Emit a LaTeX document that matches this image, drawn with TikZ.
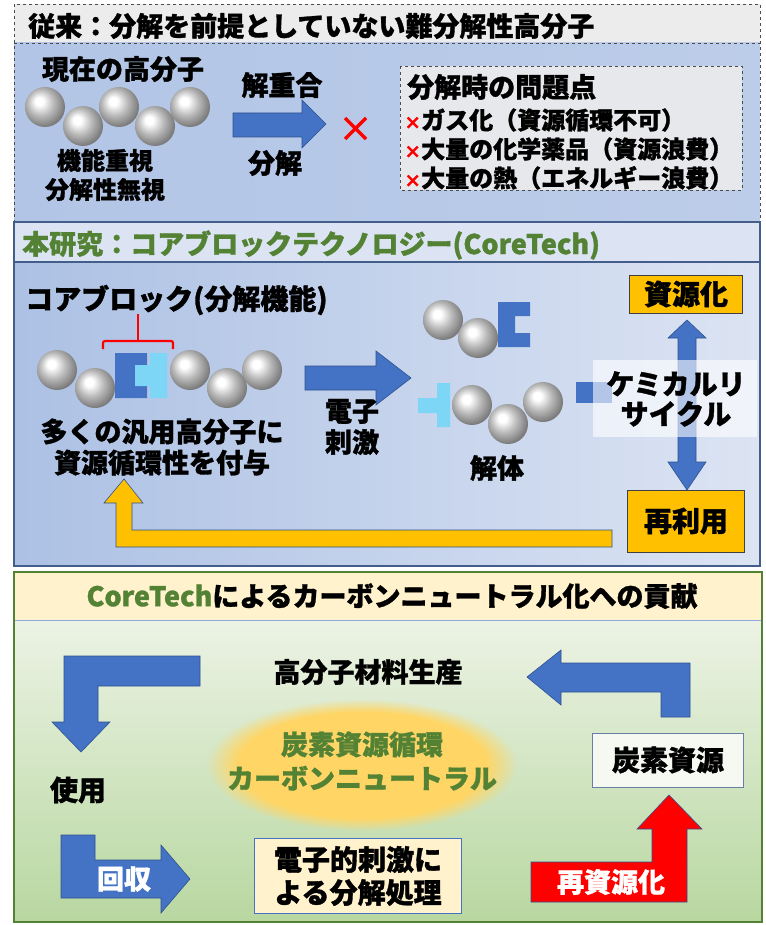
\documentclass[tikz,border=0pt]{standalone}
\usepackage{fontspec}
\setmainfont{Noto Sans CJK JP}[BoldFeatures={FakeBold=1.2}]
\usepackage{tikz}
\usetikzlibrary{arrows.meta,positioning,fadings}

\definecolor{arrowblue}{RGB}{68,114,196}
\definecolor{arrowedge}{RGB}{47,82,143}
\definecolor{piececyan}{RGB}{125,214,245}
\definecolor{amber}{RGB}{255,192,0}
\definecolor{leafgreen}{RGB}{84,130,53}
\definecolor{frameblue}{RGB}{68,94,140}
\definecolor{headgray}{RGB}{236,236,236}
\definecolor{skyblue}{RGB}{178,197,230}
\definecolor{paleblue}{RGB}{220,228,243}
\definecolor{cream}{RGB}{255,242,204}
\definecolor{mint}{RGB}{236,243,229}
\definecolor{sage}{RGB}{184,215,160}
\definecolor{glow}{RGB}{255,214,102}
% silver monomer bead
\pgfdeclareradialshading{silver}{\pgfpoint{-8bp}{8bp}}{color(0bp)=(white);
  color(5bp)=(white); color(16bp)=(black!27); color(28bp)=(black!52); color(50bp)=(black!62)}

\begin{document}
\begin{tikzpicture}[x=1pt,y=-1pt,>=Stealth,
  txt/.style={font=\fontsize{27}{31}\selectfont\bfseries,inner sep=0pt,align=center},
  small/.style={font=\fontsize{24}{29}\selectfont\bfseries,inner sep=0pt},
  mol/.style={circle,shade,shading=silver,minimum size=40pt,inner sep=0pt},
  barrow/.style={fill=arrowblue,draw=arrowedge,line width=0.6pt},
  ambox/.style={rectangle,fill=amber,draw=black!75,line width=0.8pt,
    font=\fontsize{28}{31}\selectfont\bfseries},
  frame/.style={draw=frameblue,line width=1.5pt}]
  \fill[white] (0,0) rectangle (765,925);
  \useasboundingbox (0,0) rectangle (765,925);

  % conventional polymers
  \fill[headgray] (14,4) rectangle (760,43);
  \shade[left color=skyblue,right color=skyblue!75!paleblue] (14,43) rectangle (760,221);
  \draw[dashed,black!70,line width=0.8pt] (14,43) -- (760,43);
  \draw[dashed,black!70,line width=0.8pt] (14,4) rectangle (760,221);
  \node[txt,anchor=west] (oh) at (28,26) {従来：分解を前提としていない難分解性高分子};
  \node[txt] (op) at (123,69) {現在の高分子};
  \foreach \i/\x/\y in {1/45/107,2/83/126,3/119/107,4/155/126,5/190/107}
    \node[mol] (o\i) at (\x,\y) {};
  \node[small,align=center] (on) at (105,175) {機能重視\\分解性無視};
  \fill[barrow] (233,113) -- (302,113) -- (302,100) -- (326,124) -- (302,148)
    -- (302,137) -- (233,137) -- cycle;
  \node[txt] (dp) at (282,85) {解重合};
  \node[txt] (dc) at (275,163) {分解};
  \draw[red,line width=3.2pt] (345,118) -- (366,139) (345,139) -- (366,118);
  % problems box
  \fill[headgray,opacity=0.9] (400,66) rectangle (742,190);
  \draw[dashed,black!70,line width=0.8pt] (400,66) rectangle (742,190);
  \node[txt,anchor=west] (ih) at (407,87) {分解時の問題点};
  \node[small,anchor=west,align=left] (il) at (404,149)
    {\textcolor{red}{\fontsize{17}{17}\selectfont ×}ガス化（資源循環不可）\\
     \textcolor{red}{\fontsize{17}{17}\selectfont ×}大量の化学薬品（資源浪費）\\
     \textcolor{red}{\fontsize{17}{17}\selectfont ×}大量の熱（エネルギー浪費）};

  % core block technology
  \fill[paleblue] (14,222) rectangle (760,262);
  \shade[left color=skyblue!95!arrowblue,right color=paleblue] (14,262) rectangle (760,566);
  \draw[frame] (14,222) rectangle (760,566) (14,262) -- (760,262);
  \node[txt,anchor=west,text=leafgreen] (nh) at (22,245) {本研究：コアブロックテクノロジー(CoreTech)};
  \node[txt,anchor=west,font=\fontsize{28}{31}\selectfont\bfseries] (cl) at (25,300) {コアブロック(分解機能)};
  \draw[red,line width=2.2pt,rounded corners=2pt] (103,349) -- (103,341) -- (173,341) -- (173,349);
  \draw[red,line width=2.2pt] (138,341) -- (138,314);
  \foreach \i/\x/\y in {1/57/370,2/95/388,3/190/370,4/227/388,5/262/370}
    \node[mol] (c\i) at (\x,\y) {};
  \fill[arrowblue] (115,353) -- (147,353) -- (147,365) -- (135,365) -- (135,386)
    -- (147,386) -- (147,398) -- (115,398) -- cycle;
  \fill[piececyan] (150,353) rectangle (167,398) (135,365) rectangle (150,386);
  \node[txt] (gp) at (162,447) {多くの汎用高分子に\\資源循環性を付与};
  \fill[barrow] (305,366) -- (376,366) -- (376,351) -- (411,378) -- (376,405)
    -- (376,390) -- (305,390) -- cycle;
  \node[txt] (es) at (352,427) {電子\\刺激};
  % split pieces
  \node[mol] (u1) at (443,320) {};
  \node[mol] (u2) at (478,338) {};
  \fill[arrowblue] (498,302) -- (530,302) -- (530,316) -- (515,316) -- (515,333)
    -- (530,333) -- (530,347) -- (498,347) -- cycle;
  \fill[piececyan] (437,383) rectangle (450,427) (418,398) rectangle (437,413);
  \foreach \i/\x/\y in {1/472/405,2/508/424,3/543/402}
    \node[mol] (d\i) at (\x,\y) {};
  \node[txt] (ap) at (497,468) {解体};
  \fill[arrowblue] (576,382) rectangle (612,403);
  % chemical recycle
  \node[ambox,minimum width=113pt,minimum height=38pt] (rs) at (686,294) {資源化};
  \node[ambox,minimum width=117pt,minimum height=62pt] (ru) at (686,521) {再利用};
  \fill[barrow] (687,320) -- (706,338) -- (696,338) -- (696,462) -- (706,462)
    -- (687,490) -- (668,462) -- (678,462) -- (678,338) -- (668,338) -- cycle;
  \fill[white,opacity=0.6] (593,360) rectangle (757,437);
  \node[txt,font=\fontsize{28}{30}\selectfont\bfseries] (cr) at (676,399) {ケミカルリ\\サイクル};
  \fill[amber,draw=arrowedge,line width=0.6pt] (612,530) -- (132,530) -- (132,503)
    -- (143,503) -- (124,479) -- (104,503) -- (116,503) -- (116,547) -- (612,547) -- cycle;

  % carbon neutral
  \fill[cream] (14,572) rectangle (762,620);
  \shade[top color=mint,bottom color=sage] (14,620) rectangle (762,922);
  \draw[arrowblue!60,line width=1pt] (14,620) -- (762,620);
  \draw[leafgreen,line width=2pt] (14,572) rectangle (762,922);
  \node[txt] (ch) at (392,596) {\textcolor{leafgreen}{CoreTech}によるカーボンニュートラル化への貢献};
  \fill[glow,path fading=circle with fuzzy edge 20 percent] (362,765) ellipse (155pt and 66pt);
  \node[txt,text=leafgreen,font=\fontsize{27}{34}\selectfont\bfseries] (cc) at (362,761)
    {炭素資源循環\\カーボンニュートラル};
  \node[txt] (mk) at (368,672) {高分子材料生産};
  \node[txt,font=\fontsize{28}{30}\selectfont\bfseries] (us) at (78,790) {使用};
  \node[txt,fill=mint!50!white,draw=frameblue!80,line width=0.8pt,minimum width=151pt,
    minimum height=54pt,font=\fontsize{28}{30}\selectfont\bfseries] (cs) at (668,760) {炭素資源};
  \node[txt,fill=cream,draw=arrowblue,line width=0.8pt,minimum width=207pt,minimum height=75pt,
    font=\fontsize{28}{33}\selectfont\bfseries] (tr) at (358,876) {電子的刺激に\\よる分解処理};
  % cycle arrows
  \fill[barrow] (200,656) -- (64,656) -- (64,722) -- (52,722) -- (81,752) -- (110,722)
    -- (98,722) -- (98,686) -- (200,686) -- cycle;
  \fill[barrow] (690,717) -- (661,717) -- (661,692) -- (561,692) -- (561,705) -- (527,677)
    -- (561,650) -- (561,663) -- (690,663) -- cycle;
  \fill[barrow] (61,835) -- (95,835) -- (95,860) -- (161,860) -- (161,845) -- (190,879)
    -- (161,913) -- (161,898) -- (61,898) -- cycle;
  \node[txt,text=white] (co) at (124,879) {回収};
  \fill[red,draw=arrowedge,line width=0.6pt] (531,862) -- (652,862) -- (652,829) -- (637,829)
    -- (669,795) -- (702,829) -- (687,829) -- (687,902) -- (531,902) -- cycle;
  \node[txt,text=white] (rr) at (611,882) {再資源化};
\end{tikzpicture}
\end{document}
